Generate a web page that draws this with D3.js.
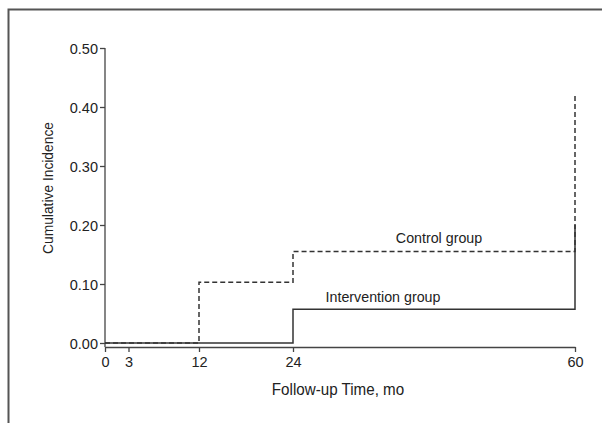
<!DOCTYPE html>
<meta charset="utf-8">
<html lang="en">
<style>
body { margin: 0; background: #fff; }
svg { display: block; }
.frame { fill: none; stroke: #555; stroke-width: 2px; }
.axis path, .axis line { stroke: #444; stroke-width: 1.3px; }
.axis text { font: 14.5px "Liberation Sans", Arial, sans-serif; fill: #222; }
.lbl { font-family: "Liberation Sans", Arial, sans-serif; fill: #222; }
.line { fill: none; stroke: #333; stroke-width: 1.5px; }
.control { stroke-dasharray: 5,3; }
</style>
<body>
<div id="chart"></div>
<script src="https://cdn.jsdelivr.net/npm/d3@7"></script>
<script>
// step data
var controlTime = [0, 12, 24, 60],
    controlValue = [0, 0.103, 0.155, 0.42],
    interventionTime = [0, 24, 60],
    interventionValue = [0, 0.057, 0.20],
    xTicks = [0, 3, 12, 24, 60],
    yTicks = [0, 0.1, 0.2, 0.3, 0.4, 0.5];

var width = 602, height = 423;

var svg = d3.select("#chart").append("svg")
    .attr("width", width)
    .attr("height", height);

// frame, cut off on the right and bottom like the scan
svg.append("rect").attr("class", "frame")
    .attr("x", 8.5).attr("y", 9.5)
    .attr("width", 700).attr("height", 500);

var x = d3.scaleLinear().domain([0, 60]).range([105, 575]);
var y = d3.scaleLinear().domain([0, 0.5]).range([343, 48]);

// y axis, domain line running down to the x axis
var yAx = svg.append("g").attr("class", "axis")
    .attr("transform", "translate(105,0)")
    .call(d3.axisLeft(y).tickValues(yTicks).tickFormat(d3.format(".2f")).tickSize(5).tickSizeOuter(0));
yAx.select(".domain").attr("d", "M0," + y(0.5) + "V" + (y(0) + 4));
yAx.selectAll("text").attr("x", -7).attr("dy", "0.36em");

var xAx = svg.append("g").attr("class", "axis")
    .attr("transform", "translate(0," + (y(0) + 4) + ")")
    .call(d3.axisBottom(x).tickValues(xTicks).tickSize(5).tickSizeOuter(0));
xAx.selectAll("text").attr("y", 10).attr("dy", "0.72em");

var line = d3.line()
    .x(function(d) { return x(d[0]); })
    .y(function(d) { return y(d[1]); })
    .curve(d3.curveStepAfter);

svg.append("path").attr("class", "line control")
    .datum(d3.zip(controlTime, controlValue))
    .attr("d", line);

svg.append("path").attr("class", "line")
    .datum(d3.zip(interventionTime, interventionValue))
    .attr("d", line);

// the original type is a bit condensed, squeeze it horizontally
function label(txt, px, tx, ty, rot) {
  svg.append("text").attr("class", "lbl")
      .attr("transform", "translate(" + tx + "," + ty + ")" + (rot ? " rotate(" + rot + ")" : "") + " scale(0.92,1)")
      .attr("text-anchor", "middle")
      .style("font-size", px + "px")
      .text(txt);
}

label("Control group", 15.5, 439, 243);
label("Intervention group", 15.5, 383, 302);
label("Follow-up Time, mo", 16.5, 338, 395);
label("Cumulative Incidence", 15, 53, 188, -90);
</script>
</body>
</html>
